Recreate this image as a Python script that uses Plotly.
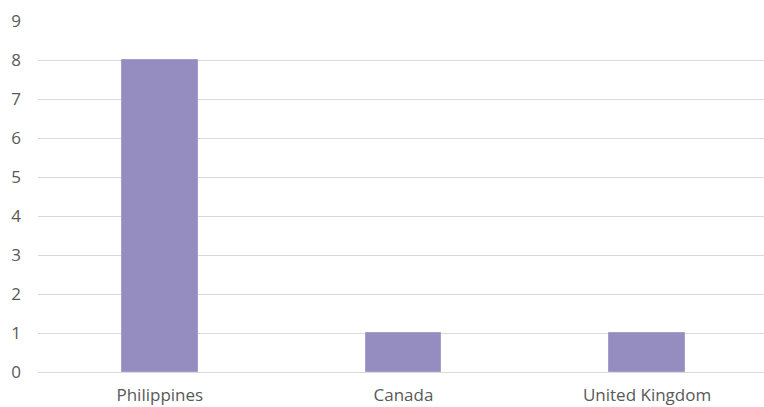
import plotly.graph_objects as go

categories = ["Philippines", "Canada", "United Kingdom"]
values = [8, 1, 1]
y_ticks = list(range(0, 10))

fig = go.Figure()
fig.add_trace(go.Bar(
    x=categories, y=values, width=0.31,
    marker=dict(color="#958CC0", line=dict(color="#A59DCB", width=1)),
))
fig.update_layout(
    width=764, height=407,
    margin=dict(l=38, r=0, t=21, b=35),
    plot_bgcolor="white", paper_bgcolor="white",
    font=dict(family="Open Sans", size=17, color="#595959"),
    showlegend=False,
    bargap=0,
)
fig.update_xaxes(range=[-0.5, 2.48], showgrid=False, showline=False, zeroline=False,
                 ticks="", ticklabelstandoff=11, tickfont=dict(size=17), automargin=False)
fig.update_yaxes(range=[0, 9], tickvals=y_ticks, showgrid=True, gridcolor="#D9D9D9",
                 gridwidth=1, zeroline=True, zerolinecolor="#D9D9D9", zerolinewidth=1,
                 showline=False, ticks="", ticklabelstandoff=16, tickfont=dict(size=17),
                 automargin=False)
fig.write_html("out.html", config={"displayModeBar": False},
               post_script="document.body.style.margin='0';document.body.style.overflow='hidden';")
